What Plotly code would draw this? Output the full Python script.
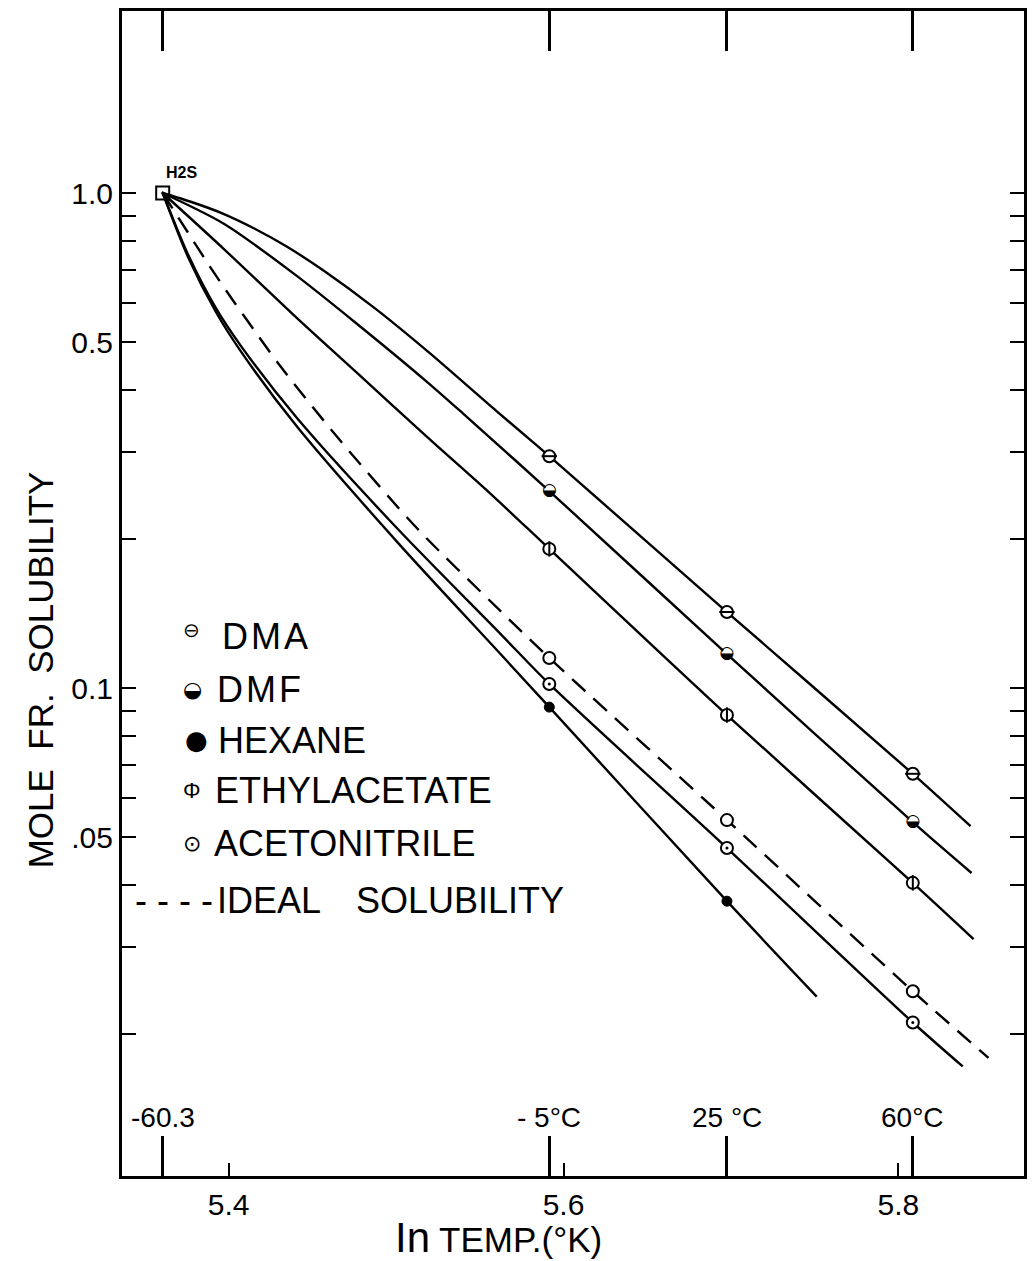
import plotly.graph_objects as go

# ---- temperatures (ln K) of the measurement columns ----
T_LABELS = ["-60.3", "- 5°C", "25 °C", "60°C"]
T_LN = [5.3606, 5.5915, 5.6976, 5.8086]          # ln(212.85), ln(268.15), ln(298.15), ln(333.15)
X_TICKS = [5.4, 5.6, 5.8]
X_TICKTEXT = ["5.4", "5.6", "5.8"]
Y_TICKS = [1.0, 0.5, 0.1, 0.05]
Y_TICKTEXT = ["1.0", "0.5", "0.1", ".05"]
Y_MINOR = [0.9, 0.8, 0.7, 0.6, 0.4, 0.3, 0.2, 0.09, 0.08, 0.07, 0.06, 0.04, 0.03, 0.02]

# ---- H2S reference point ----
H2S_X = [5.3606]
H2S_Y = [1.0]

# ---- measured points (-5, 25, 60 C) ----
DMA_PX = [5.5915, 5.6976, 5.8086]
DMA_PY = [0.294, 0.1424, 0.0671]
DMF_PX = [5.5915, 5.6976, 5.8086]
DMF_PY = [0.250, 0.1171, 0.0536]
EA_PX = [5.5915, 5.6976, 5.8086]
EA_PY = [0.191, 0.0882, 0.0404]
IDEAL_PX = [5.5915, 5.6976, 5.8086]
IDEAL_PY = [0.115, 0.0541, 0.0244]
AN_PX = [5.5915, 5.6976, 5.8086]
AN_PY = [0.1019, 0.0475, 0.0211]
HEX_PX = [5.5915, 5.6976]
HEX_PY = [0.0915, 0.0371]

# ---- drawn curves ----
DMA_CX = [5.3606, 5.3782, 5.3958, 5.4156, 5.4354, 5.4575, 5.4876, 5.5194, 5.5598, 5.5915, 5.6976, 5.8086, 5.8431]
DMA_CY = [1.0, 0.958, 0.911, 0.847, 0.777, 0.694, 0.584, 0.477, 0.363, 0.294, 0.1424, 0.0671, 0.0526]
DMF_CX = [5.3606, 5.3976, 5.4397, 5.4758, 5.5179, 5.5402, 5.5915, 5.6976, 5.8086, 5.8437]
DMF_CY = [1.0, 0.865, 0.684, 0.547, 0.417, 0.358, 0.250, 0.1171, 0.0536, 0.0423]
EA_CX = [5.3606, 5.3978, 5.4400, 5.4762, 5.5183, 5.5563, 5.5915, 5.6976, 5.8086, 5.8449]
EA_CY = [1.0, 0.767, 0.562, 0.4345, 0.322, 0.247, 0.191, 0.0882, 0.0404, 0.0311]
IDEAL_CX = [5.3606, 5.3753, 5.3887, 5.4024, 5.4176, 5.4315, 5.4660, 5.5132, 5.5615, 5.5915, 5.6976, 5.8086, 5.8538]
IDEAL_CY = [1.0, 0.836, 0.711, 0.608, 0.515, 0.444, 0.318, 0.209, 0.144, 0.115, 0.0541, 0.0244, 0.0179]
AN_CX = [5.3606, 5.3758, 5.3923, 5.4075, 5.4408, 5.5013, 5.5616, 5.5915, 5.6976, 5.8086, 5.8384]
AN_CY = [1.0, 0.750, 0.586, 0.490, 0.351, 0.209, 0.1294, 0.1019, 0.0475, 0.0211, 0.0172]
HEX_CX = [5.3606, 5.3758, 5.3924, 5.4076, 5.4409, 5.5014, 5.5618, 5.5915, 5.6976, 5.7512]
HEX_CY = [1.0, 0.742, 0.575, 0.477, 0.337, 0.196, 0.1177, 0.0915, 0.0371, 0.0238]

FONT = "Liberation Sans, Arial, DejaVu Sans"
INK = "black"

fig = go.Figure()

def curve(x, y, dash="solid"):
    fig.add_trace(go.Scatter(x=x, y=y, mode="lines", showlegend=False, hoverinfo="skip",
                             line=dict(color=INK, width=2.4, shape="spline", smoothing=0.8, dash=dash)))

for cx, cy in [(DMA_CX, DMA_CY), (DMF_CX, DMF_CY), (EA_CX, EA_CY), (AN_CX, AN_CY), (HEX_CX, HEX_CY)]:
    curve(cx, cy)
curve(IDEAL_CX, IDEAL_CY, dash="18px,11px")

def pts(x, y, symbol, size, color="white", lw=2.0):
    fig.add_trace(go.Scatter(x=x, y=y, mode="markers", showlegend=False, hoverinfo="skip",
                             marker=dict(symbol=symbol, size=size, color=color,
                                         line=dict(color=INK, width=lw))))

# open circles (white filled so the line does not show through)
for px, py in [(DMA_PX, DMA_PY), (EA_PX, EA_PY), (IDEAL_PX, IDEAL_PY), (AN_PX, AN_PY)]:
    pts(px, py, "circle", 12)
pts(DMA_PX, DMA_PY, "line-ew", 11, lw=2)
pts(EA_PX, EA_PY, "line-ns", 11, lw=2)
pts(AN_PX, AN_PY, "circle", 3, color=INK, lw=0)
# DMF half-filled circle
pts(DMF_PX, DMF_PY, "circle", 10, lw=0)
fig.add_trace(go.Scatter(x=DMF_PX, y=DMF_PY, mode="text", text=["◒"] * len(DMF_PX),
                         textposition="middle center", showlegend=False, hoverinfo="skip",
                         textfont=dict(family="DejaVu Sans", size=17, color=INK)))
# hexane filled
pts(HEX_PX, HEX_PY, "circle", 10, color=INK, lw=1)
# H2S square (on the second x axis so that axis is drawn)
fig.add_trace(go.Scatter(x=H2S_X, y=H2S_Y, xaxis="x2", mode="markers", showlegend=False,
                         hoverinfo="skip",
                         marker=dict(symbol="square-open-dot", size=13, color=INK,
                                     line=dict(color=INK, width=2))))

XR = [5.3363, 5.8750]
YR = [-1.9858, 0.3677]

fig.update_layout(
    width=1034, height=1261,
    margin=dict(l=122, r=7, t=11, b=85),
    paper_bgcolor="white", plot_bgcolor="white",
    font=dict(family=FONT, color=INK),
    xaxis=dict(range=XR, tickvals=X_TICKS, ticktext=X_TICKTEXT, ticks="inside", ticklen=13,
               tickwidth=2, tickcolor=INK, showline=True, linewidth=3, linecolor=INK,
               mirror=False, showgrid=False, zeroline=False,
               tickfont=dict(size=30, family=FONT, color=INK)),
    xaxis2=dict(range=XR, overlaying="x", anchor="y", side="bottom", tickvals=T_LN,
                ticks="inside", ticklen=40, tickwidth=2.5, tickcolor=INK, showticklabels=False,
                showline=True, linewidth=3, linecolor=INK, mirror="ticks",
                showgrid=False, zeroline=False),
    yaxis=dict(type="log", range=YR, tickvals=Y_TICKS, ticktext=Y_TICKTEXT, ticks="inside",
               ticklen=14, tickwidth=2, tickcolor=INK, showline=True, linewidth=3,
               linecolor=INK, mirror="ticks", showgrid=False, zeroline=False,
               minor=dict(tickvals=Y_MINOR, ticks="inside", ticklen=14, tickwidth=2,
                          tickcolor=INK, showgrid=False),
               tickfont=dict(size=30, family=FONT, color=INK)),
)

ann = []
# H2S label
ann.append(dict(x=H2S_X[0], y=0, xref="x", yref="y", text="<b>H2S</b>", showarrow=False,
                xshift=19, yshift=21, font=dict(size=16, family=FONT, color=INK)))
# temperature labels above long ticks
for lab, xv in zip(T_LABELS, T_LN):
    ann.append(dict(x=xv, y=0.0506, xref="x", yref="paper", text=lab, showarrow=False,
                    xanchor="center", yanchor="middle", font=dict(size=28, family=FONT, color=INK)))

# legend (hand-lettered inside the plot)
leg_glyphs = [("⊖", 0.0773, 0.4690, 20, "DejaVu Sans"), ("◒", 0.0785, 0.4172, 22, "DejaVu Sans"),
              ("●", 0.0829, 0.3742, 26, "DejaVu Sans"), ("Φ", 0.0773, 0.3313, 22, FONT),
              ("⊙", 0.0773, 0.2858, 22, "DejaVu Sans")]
for g, x, y, s, fam in leg_glyphs:
    ann.append(dict(x=x, y=y, xref="paper", yref="paper", text=g, showarrow=False,
                    xanchor="center", yanchor="middle",
                    font=dict(size=s, family=fam, color=INK)))
leg_text = [("D\u200aM\u200aA", 0.1083, 0.4635), ("D\u200aM\u200aF", 0.1028, 0.4172),
            ("HEXANE", 0.1039, 0.3742), ("ETHYLACETATE", 0.1006, 0.3313),
            ("ACETONITRILE", 0.0994, 0.2858), ("- - - -", 0.0122, 0.2369),
            ("IDEAL", 0.1028, 0.2369), ("SOLUBILITY", 0.2575, 0.2369)]
for t, x, y in leg_text:
    ann.append(dict(x=x, y=y, xref="paper", yref="paper", text=t, showarrow=False,
                    xanchor="left", yanchor="middle", font=dict(size=36, family=FONT, color=INK)))

# axis titles
ann.append(dict(x=-0.0906, y=0.4343, xref="paper", yref="paper", text="MOLE  FR.  SOLUBILITY",
                textangle=-90, showarrow=False, xanchor="center", yanchor="middle",
                font=dict(size=35, family=FONT, color=INK)))
ann.append(dict(x=0.4177, y=-0.0532, xref="paper", yref="paper",
                text='<span style="font-size:42px">In</span> TEMP.(°K)', showarrow=False,
                xanchor="center", yanchor="middle", font=dict(size=35, family=FONT, color=INK)))

fig.update_layout(annotations=ann)

fig.write_html("out.html", config={"displayModeBar": False},
               post_script="document.body.style.margin='0';")
